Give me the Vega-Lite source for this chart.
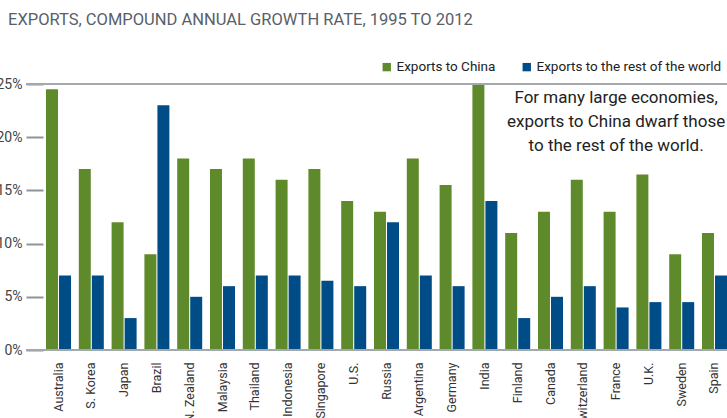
{
  "$schema": "https://vega.github.io/schema/vega-lite/v6.json",
  "width": 701,
  "height": 266,
  "autosize": {"type": "none"},
  "padding": {"left": 26, "top": 84, "right": 0, "bottom": 68},
  "background": "white",
  "config": {"view": {"stroke": null}, "font": "Roboto"},
  "title": {
    "text": "EXPORTS, COMPOUND ANNUAL GROWTH RATE, 1995 TO 2012",
    "anchor": "start",
    "frame": "group",
    "fontSize": 16.5,
    "fontWeight": "normal",
    "font": "Roboto",
    "color": "#58616a",
    "dx": -18,
    "offset": 32
  },
  "datasets": {
    "bars": [
      {"country": "Australia", "series": "Exports to China", "value": 24.5},
      {"country": "Australia", "series": "Exports to the rest of the world", "value": 7},
      {"country": "S. Korea", "series": "Exports to China", "value": 17},
      {"country": "S. Korea", "series": "Exports to the rest of the world", "value": 7},
      {"country": "Japan", "series": "Exports to China", "value": 12},
      {"country": "Japan", "series": "Exports to the rest of the world", "value": 3},
      {"country": "Brazil", "series": "Exports to China", "value": 9},
      {"country": "Brazil", "series": "Exports to the rest of the world", "value": 23},
      {"country": "N. Zealand", "series": "Exports to China", "value": 18},
      {"country": "N. Zealand", "series": "Exports to the rest of the world", "value": 5},
      {"country": "Malaysia", "series": "Exports to China", "value": 17},
      {"country": "Malaysia", "series": "Exports to the rest of the world", "value": 6},
      {"country": "Thailand", "series": "Exports to China", "value": 18},
      {"country": "Thailand", "series": "Exports to the rest of the world", "value": 7},
      {"country": "Indonesia", "series": "Exports to China", "value": 16},
      {"country": "Indonesia", "series": "Exports to the rest of the world", "value": 7},
      {"country": "Singapore", "series": "Exports to China", "value": 17},
      {"country": "Singapore", "series": "Exports to the rest of the world", "value": 6.5},
      {"country": "U.S.", "series": "Exports to China", "value": 14},
      {"country": "U.S.", "series": "Exports to the rest of the world", "value": 6},
      {"country": "Russia", "series": "Exports to China", "value": 13},
      {"country": "Russia", "series": "Exports to the rest of the world", "value": 12},
      {"country": "Argentina", "series": "Exports to China", "value": 18},
      {"country": "Argentina", "series": "Exports to the rest of the world", "value": 7},
      {"country": "Germany", "series": "Exports to China", "value": 15.5},
      {"country": "Germany", "series": "Exports to the rest of the world", "value": 6},
      {"country": "India", "series": "Exports to China", "value": 25},
      {"country": "India", "series": "Exports to the rest of the world", "value": 14},
      {"country": "Finland", "series": "Exports to China", "value": 11},
      {"country": "Finland", "series": "Exports to the rest of the world", "value": 3},
      {"country": "Canada", "series": "Exports to China", "value": 13},
      {"country": "Canada", "series": "Exports to the rest of the world", "value": 5},
      {"country": "Switzerland", "series": "Exports to China", "value": 16},
      {"country": "Switzerland", "series": "Exports to the rest of the world", "value": 6},
      {"country": "France", "series": "Exports to China", "value": 13},
      {"country": "France", "series": "Exports to the rest of the world", "value": 4},
      {"country": "U.K.", "series": "Exports to China", "value": 16.5},
      {"country": "U.K.", "series": "Exports to the rest of the world", "value": 4.5},
      {"country": "Sweden", "series": "Exports to China", "value": 9},
      {"country": "Sweden", "series": "Exports to the rest of the world", "value": 4.5},
      {"country": "Spain", "series": "Exports to China", "value": 11},
      {"country": "Spain", "series": "Exports to the rest of the world", "value": 7}
    ],
    "lines": [{"v": 0}, {"v": 25}],
    "note": [{"country": "France", "pos": 24.4, "note": ["For many large economies,", "exports to China dwarf those", "to the rest of the world."]}]
  },
  "layer": [
    {
      "data": {"name": "bars"},
      "mark": {"type": "bar"},
      "encoding": {
        "x": {
          "field": "country",
          "type": "nominal",
          "sort": null,
          "scale": {"paddingInner": 0.2378, "paddingOuter": 0.3049, "align": 1},
          "axis": {
            "title": null,
            "labelAngle": -90,
            "labelPadding": 12,
            "domain": false,
            "ticks": false,
            "labelFontSize": 12.5,
            "labelColor": "#333333",
            "labelFont": "Roboto",
            "labelLimit": 0
          }
        },
        "xOffset": {
          "field": "series",
          "type": "nominal",
          "scale": {"paddingInner": 0.08}
        },
        "y": {
          "field": "value",
          "type": "quantitative",
          "scale": {"domain": [0, 25], "nice": false},
          "axis": {
            "title": null,
            "values": [0, 5, 10, 15, 20, 25],
            "labelExpr": "datum.value + '%'",
            "domain": false,
            "grid": false,
            "tickSize": -17,
            "tickColor": "#8e959b",
            "tickWidth": 2,
            "labelPadding": 21,
            "labelFontSize": 14,
            "labelColor": "#444444",
            "labelFont": "Roboto"
          }
        },
        "color": {
          "field": "series",
          "type": "nominal",
          "scale": {
            "domain": ["Exports to China", "Exports to the rest of the world"],
            "range": ["#5f8a2b", "#004c86"]
          },
          "legend": {
            "title": null,
            "orient": "none",
            "legendX": 354,
            "legendY": -24,
            "direction": "horizontal",
            "symbolType": "square",
            "symbolSize": 70,
            "symbolStrokeWidth": 0,
            "labelFontSize": 13.5,
            "labelFont": "Roboto",
            "labelColor": "#222222",
            "labelOffset": 3,
            "labelLimit": 0,
            "columnPadding": 24,
            "padding": 0
          }
        }
      }
    },
    {
      "data": {"name": "lines"},
      "mark": {"type": "rule", "color": "#a3a8ad", "strokeWidth": 2},
      "encoding": {
        "y": {"field": "v", "type": "quantitative"}
      }
    },
    {
      "data": {"name": "note"},
      "mark": {"type": "text", "fontSize": 17, "font": "Roboto", "color": "#222222", "align": "center", "baseline": "top", "lineHeight": 24},
      "encoding": {
        "x": {"field": "country", "type": "nominal", "sort": null},
        "y": {"field": "pos", "type": "quantitative"},
        "text": {"field": "note"}
      }
    }
  ]
}
